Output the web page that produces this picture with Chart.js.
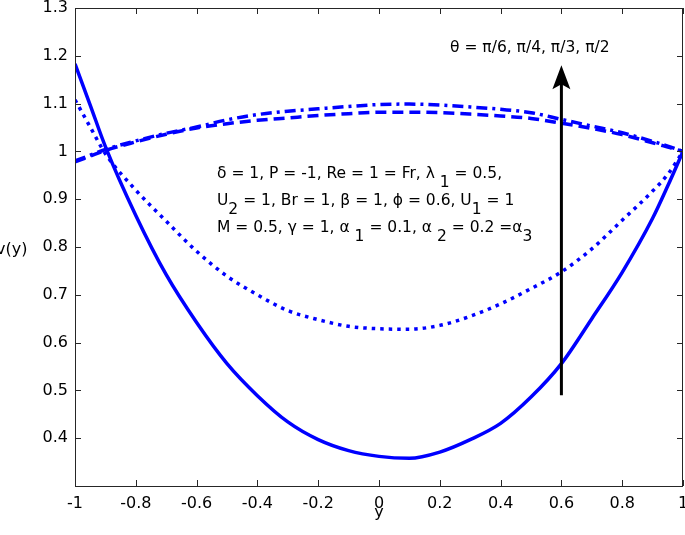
<!DOCTYPE html>
<html>
<head>
<meta charset="utf-8">
<script src="https://cdn.jsdelivr.net/npm/chart.js@4.4.1/dist/chart.umd.min.js"></script>
<style>
  html, body { margin: 0; padding: 0; background: #fff; }
  canvas { display: block; }
</style>
</head>
<body>
<canvas id="plot" width="685" height="535"></canvas>
<script>
// y positions (x axis of the plot)
const ys = [-1, -0.95, -0.9, -0.8, -0.7, -0.6, -0.5, -0.4, -0.3, -0.2, -0.1, 0,
            0.1, 0.2, 0.3, 0.4, 0.5, 0.6, 0.7, 0.8, 0.9, 0.95, 1];

// v(y) for theta = pi/6, pi/4, pi/3, pi/2
const vPi6 = [1.183, 1.097, 1.01, 0.866, 0.742, 0.642, 0.556, 0.489, 0.434, 0.397, 0.374, 0.362,
              0.358, 0.371, 0.397, 0.431, 0.486, 0.556, 0.65, 0.747, 0.86, 0.928, 1.0];
const vPi4 = [1.108, 1.051, 0.995, 0.919, 0.854, 0.791, 0.739, 0.70, 0.667, 0.648, 0.634, 0.629,
              0.628, 0.636, 0.655, 0.681, 0.713, 0.748, 0.796, 0.856, 0.917, 0.952, 1.0];
const vPi3 = [0.978, 0.99, 1.002, 1.02, 1.036, 1.049, 1.058, 1.065, 1.07, 1.075, 1.079, 1.082,
              1.082, 1.081, 1.078, 1.074, 1.069, 1.059, 1.048, 1.035, 1.018, 1.009, 1.0];
const vPi2 = [0.98, 0.992, 1.004, 1.022, 1.038, 1.051, 1.066, 1.077, 1.084, 1.089, 1.094, 1.098,
              1.099, 1.097, 1.093, 1.088, 1.081, 1.067, 1.053, 1.039, 1.021, 1.011, 1.0];

// axis ticks
const xTicks = [-1, -0.8, -0.6, -0.4, -0.2, 0, 0.2, 0.4, 0.6, 0.8, 1];
const yTicks = [0.4, 0.5, 0.6, 0.7, 0.8, 0.9, 1, 1.1, 1.2, 1.3];

const FONT = "'DejaVu Sans', 'Liberation Sans', Arial, sans-serif";
const blue = "#0000ff";

function pts(vals) {
  return ys.map((y, i) => ({ x: y, y: vals[i] }));
}

function fmt(v) {
  return String(Math.round(v * 10) / 10);
}

// rich text with subscripts: parts = [[text, isSub], ...]
function rich(ctx, x, y, parts) {
  parts.forEach(p => {
    ctx.fillText(p[0], x, p[1] ? y + 9 : y);
    x += ctx.measureText(p[0]).width;
  });
}

const frame = {
  id: "frame",
  afterDraw(chart) {
    const ctx = chart.ctx;
    const a = chart.chartArea;
    const sx = chart.scales.x, sy = chart.scales.y;
    ctx.save();
    // box
    ctx.strokeStyle = "#262626";
    ctx.lineWidth = 1;
    ctx.strokeRect(a.left + 0.5, a.top + 0.5, a.right - a.left - 1, a.bottom - a.top);
    // inward ticks
    ctx.beginPath();
    xTicks.forEach(t => {
      const px = Math.round(sx.getPixelForValue(t)) + 0.5;
      ctx.moveTo(px, a.bottom); ctx.lineTo(px, a.bottom - 6);
      ctx.moveTo(px, a.top); ctx.lineTo(px, a.top + 6);
    });
    yTicks.forEach(t => {
      const py = Math.round(sy.getPixelForValue(t)) + 0.5;
      ctx.moveTo(a.left, py); ctx.lineTo(a.left + 6, py);
      ctx.moveTo(a.right, py); ctx.lineTo(a.right - 6, py);
    });
    ctx.stroke();

    // arrow
    const ax = sx.getPixelForValue(0.6);
    const y0 = sy.getPixelForValue(0.49);
    const tip = sy.getPixelForValue(1.18);
    ctx.strokeStyle = "#000";
    ctx.fillStyle = "#000";
    ctx.lineWidth = 3;
    ctx.beginPath();
    ctx.moveTo(ax, y0); ctx.lineTo(ax, tip + 18);
    ctx.stroke();
    ctx.beginPath();
    ctx.moveTo(ax, tip);
    ctx.lineTo(ax + 9, tip + 24);
    ctx.lineTo(ax, tip + 19);
    ctx.lineTo(ax - 9, tip + 24);
    ctx.closePath();
    ctx.fill();

    // labels
    ctx.fillStyle = "#000";
    ctx.font = "15.5px " + FONT;
    ctx.textBaseline = "alphabetic";
    ctx.textAlign = "left";
    ctx.fillText("\u03b8 = \u03c0/6, \u03c0/4, \u03c0/3, \u03c0/2", 450, 52);
    rich(ctx, 217, 178, [["\u03b4 = 1, P = -1, Re = 1 = Fr, \u03bb", 0], [" 1", 1], [" = 0.5,", 0]]);
    rich(ctx, 217, 205, [["U", 0], ["2", 1], [" = 1, Br = 1, \u03b2 = 1, \u03d5 = 0.6, U", 0], ["1", 1], [" = 1", 0]]);
    rich(ctx, 217, 232, [["M = 0.5, \u03b3 = 1, \u03b1", 0], [" 1", 1], [" = 0.1, \u03b1", 0], [" 2", 1],
                         [" = 0.2 =\u03b1", 0], ["3", 1]]);
    // axis names
    ctx.font = "16px " + FONT;
    ctx.fillText("v(y)", -4, 254);
    ctx.textAlign = "center";
    ctx.fillText("y", sx.getPixelForValue(0), 517);
    ctx.restore();
  }
};

function line(vals, dash) {
  return {
    data: pts(vals),
    borderColor: blue,
    borderWidth: 3.5,
    borderDash: dash,
    borderCapStyle: "butt",
    pointRadius: 0,
    cubicInterpolationMode: "monotone",
    fill: false
  };
}

new Chart(document.getElementById("plot").getContext("2d"), {
  type: "line",
  data: {
    datasets: [
      line(vPi6, []),
      line(vPi4, [3.5, 5]),
      line(vPi3, [11, 6]),
      line(vPi2, [11, 5, 3, 5])
    ]
  },
  options: {
    responsive: false,
    animation: false,
    devicePixelRatio: 1,
    layout: { padding: { left: 0, right: 2, top: 8, bottom: 0 } },
    plugins: { legend: { display: false }, tooltip: { enabled: false } },
    scales: {
      x: {
        type: "linear",
        min: -1, max: 1,
        grid: { display: false, drawTicks: false },
        border: { display: false },
        ticks: {
          stepSize: 0.2,
          padding: 8,
          color: "#000",
          font: { family: FONT, size: 16 },
          maxRotation: 0,
          autoSkip: false,
          callback: v => fmt(v)
        },
        afterFit(s) { s.height = 49; s.paddingLeft = 0; s.paddingRight = 0; }
      },
      y: {
        min: 0.3, max: 1.3,
        grid: { display: false, drawTicks: false },
        border: { display: false },
        ticks: {
          stepSize: 0.1,
          padding: 7,
          color: "#000",
          font: { family: FONT, size: 16 },
          autoSkip: false,
          callback: v => (v < 0.35 ? "" : fmt(v))
        },
        afterFit(s) { s.width = 75; s.paddingTop = 0; s.paddingBottom = 0; }
      }
    }
  },
  plugins: [frame]
});
</script>
</body>
</html>
